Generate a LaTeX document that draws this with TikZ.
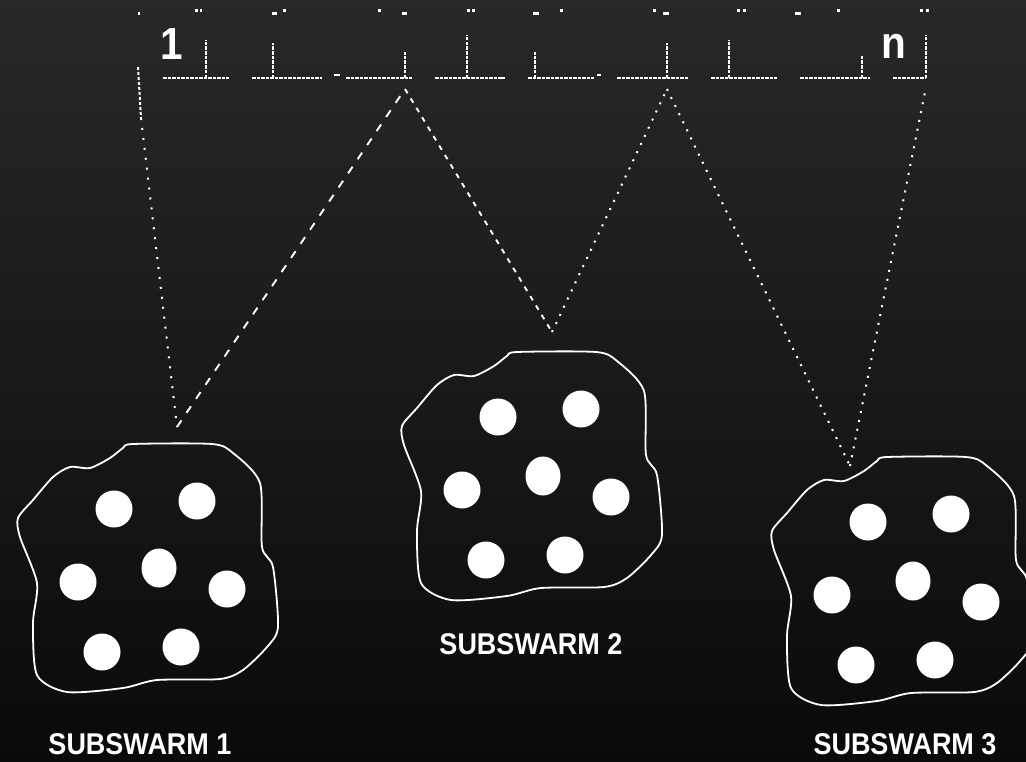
\documentclass[tikz,border=0pt]{standalone}
\usepackage{fontspec}
\newfontfamily\lblfont{Liberation Sans}[FakeStretch=0.9]
\usetikzlibrary{calc}
\begin{document}
\begin{tikzpicture}[x=1pt,y=-1pt,
  wl/.style={draw=white,line width=1.8pt},
  ruler/.style={wl,line width=2.4pt,dash pattern=on 3.5pt off 1pt},
  tick/.style={wl,line width=2.4pt,dash pattern=on 3.5pt off 1.2pt},
  sparse/.style={wl,line width=2pt,dash pattern=on 2pt off 8pt},
  densedot/.style={wl,line width=2pt,dash pattern=on 3pt off 2pt},
  dashline/.style={wl,line width=1.9pt,dash pattern=on 8pt off 9pt},
  shortdash/.style={wl,line width=1.9pt,dash pattern=on 5pt off 6pt},
  dotline/.style={wl,line width=2pt,dash pattern=on 2pt off 7pt},
  lbl/.style={text=white,font=\lblfont\bfseries\fontsize{30}{30}\selectfont,inner sep=0pt},
  big/.style={text=white,font=\lblfont\bfseries\fontsize{45}{45}\selectfont,inner sep=0pt},
  particle/.style={fill=white},
  blob/.pic={
    \draw[white,line width=1.8pt] plot[smooth cycle,tension=0.45] coordinates {
      (133,444) (212,444) (233,453) (260,483) (262,547) (273,567) (278,627)
      (267,647) (243,670) (220,679) (157,680) (123,688) (67,692) (37,675)
      (33,623) (37,583) (20,537) (18,518) (33,500) (53,477) (70,467)
      (90,468) (110,458) (123,448)};
    \fill[particle] (114,509) circle[radius=18.5];
    \fill[particle] (197,501) circle[radius=18.5];
    \fill[particle] (78,582) circle[radius=18.5];
    \fill[particle] (159,568) ellipse[x radius=17.5,y radius=19.5];
    \fill[particle] (227,589) circle[radius=18.5];
    \fill[particle] (102,652) circle[radius=18.5];
    \fill[particle] (181,647) circle[radius=18.5];
  }]
\useasboundingbox (0,0) rectangle (1026,761);
\clip (0,0) rectangle (1026,761);
\shade[top color={rgb,255:red,40;green,40;blue,40},bottom color={rgb,255:red,10;green,10;blue,10}] (0,0) rectangle (1026,761);

% ruler
\foreach \a/\b in {163/229,252/322,346/412,435/505,528/594,617/688,711/777,800/870,893/925}
  \draw[ruler] (\a,78) -- (\b,78);
\foreach \a/\b in {334/340,597/601}
  \draw[wl,line width=2.4pt] (\a,75) -- (\b,75);
\fill[white] (502,77) rectangle (505,79);
\foreach \x/\t in {206/40,273/43,405/52,467/35,535/52,667/43,729/40,862/55,926/35}
  \draw[tick] (\x,78) -- (\x,\t);
% scattered marks at the top
\foreach \x/\y/\w in {138/12/2,195/9/3,200/9/2,272/12/5,283/9/3,378/9/3,402/12/5,467/9/3,472/9/3,533/12/6,560/9/3,653/9/3,663/12/6,737/9/3,743/9/3,795/12/6,837/9/3,920/9/3,926/9/3}
  \fill[white] (\x,\y) rectangle ++(\w,3);

\node[big] (one) at (172,44) {1};
\node[big,anchor=base] (n) at (894,58) {n};

% subswarms
\pic (sw1) at (0,0) {blob};
\pic (sw2) at (384,-92) {blob};
\pic (sw3) at (754,13) {blob};

\node[lbl] (l1) at (140,744) {SUBSWARM 1};
\node[lbl] (l2) at (531,644) {SUBSWARM 2};
\node[lbl] (l3) at (905,744) {SUBSWARM 3};

% zigzag connectors
\coordinate (L) at (138,67);
\coordinate (Lm) at (141,118);
\coordinate (A1) at (177,427);
\coordinate (T4) at (405,89);
\coordinate (A2) at (552,332);
\coordinate (T6) at (667,89);
\coordinate (A3) at (850,466);
\coordinate (R) at (926,87);
\draw[densedot] (L) -- (Lm);
\draw[sparse] (Lm) -- (A1);
\draw[dashline] (A1) -- (T4);
\draw[shortdash] (T4) -- (A2);
\draw[dotline] (A2) -- (T6);
\draw[dotline] (T6) -- (A3);
\draw[dotline] (A3) -- (R);
\end{tikzpicture}
\end{document}
